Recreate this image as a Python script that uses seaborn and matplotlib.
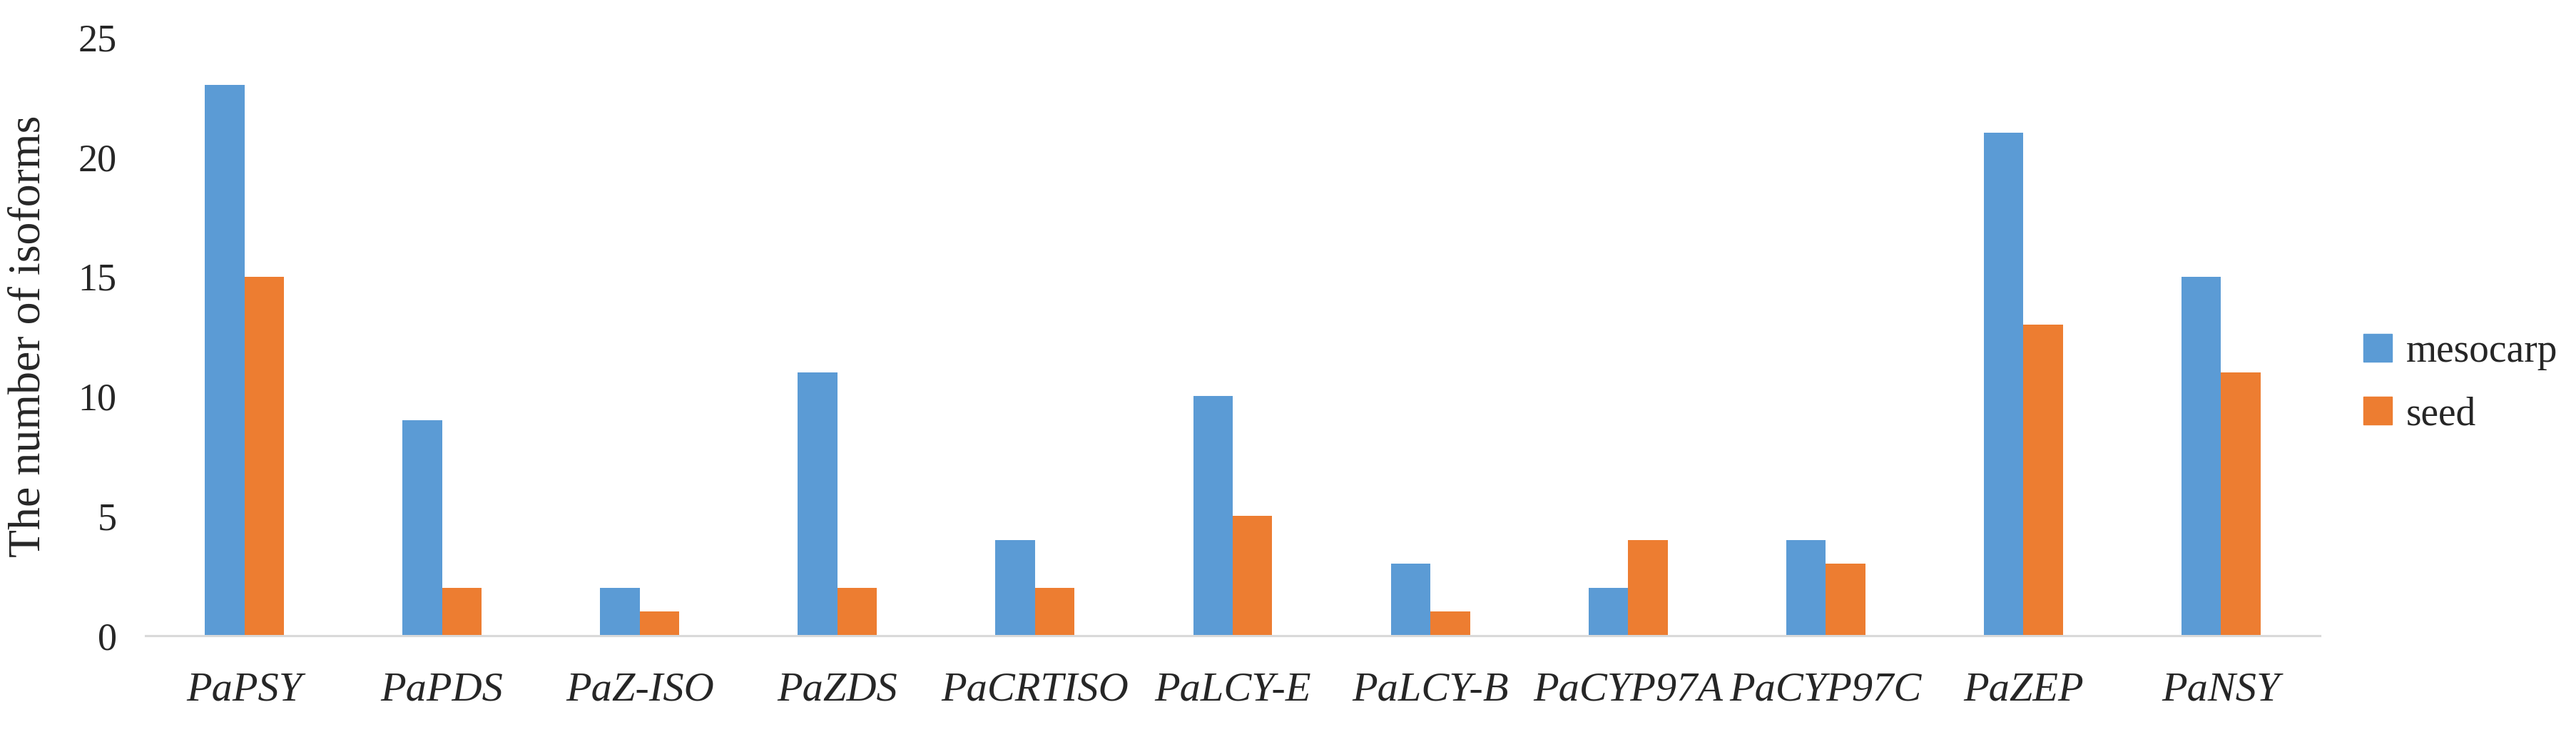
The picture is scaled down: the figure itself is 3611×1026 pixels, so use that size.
import matplotlib
matplotlib.use("Agg")
import matplotlib.pyplot as plt
import seaborn as sns
import pandas as pd

genes = ["PaPSY", "PaPDS", "PaZ-ISO", "PaZDS", "PaCRTISO", "PaLCY-E",
         "PaLCY-B", "PaCYP97A", "PaCYP97C", "PaZEP", "PaNSY"]
mesocarp = [23, 9, 2, 11, 4, 10, 3, 2, 4, 21, 15]
seed = [15, 2, 1, 2, 2, 5, 1, 4, 3, 13, 11]
tissues = ["mesocarp", "seed"]
colors = ["#5B9BD5", "#ED7D31"]
y_ticks = [0, 5, 10, 15, 20, 25]

df = pd.DataFrame({
    "gene": genes * 2,
    "tissue": ["mesocarp"] * len(genes) + ["seed"] * len(genes),
    "count": mesocarp + seed,
})

sns.set_theme(style="white")
plt.rcParams["font.family"] = ["Liberation Serif", "DejaVu Serif"]

W, H = 3611, 1026
fig = plt.figure(figsize=(W / 100, H / 100), dpi=100)
ax = fig.add_axes([204 / W, 1 - 891 / H, (3252 - 204) / W, (891 - 52) / H])

sns.barplot(data=df, x="gene", y="count", hue="tissue", order=genes,
            hue_order=tissues, palette=colors, width=0.4, saturation=1,
            linewidth=0, ax=ax)

ax.set_xlim(-0.5, len(genes) - 0.5)
ax.set_ylim(0, 25)
ax.set_yticks(y_ticks)
ax.set_yticklabels([str(v) for v in y_ticks], fontsize=39)
ax.tick_params(axis="y", length=0, pad=29)
ax.tick_params(axis="x", length=0, pad=36)
for lab in ax.get_xticklabels():
    lab.set_fontsize(42)
    lab.set_fontstyle("italic")

for s in ["top", "right", "left"]:
    ax.spines[s].set_visible(False)
ax.spines["bottom"].set_color("#D9D9D9")
ax.spines["bottom"].set_linewidth(2.2)
ax.grid(False)

ax.set_xlabel("")
ax.set_ylabel("The number of isoforms", fontsize=46)
ax.yaxis.set_label_coords((41 - 204) / (3252 - 204), 0.5)
ax.yaxis.label.set_va("center")

ax.get_legend().remove()
handles = [plt.Rectangle((0, 0), 1, 1, color=c) for c in colors]
fig.legend(handles, tissues, loc="center left",
           bbox_to_anchor=(3313 / W, 1 - 537 / H), frameon=False,
           fontsize=40, handlelength=0.72, handleheight=0.72,
           handletextpad=0.36, labelspacing=0.65, borderpad=0,
           borderaxespad=0)

fig.savefig("out.png", dpi=100)
